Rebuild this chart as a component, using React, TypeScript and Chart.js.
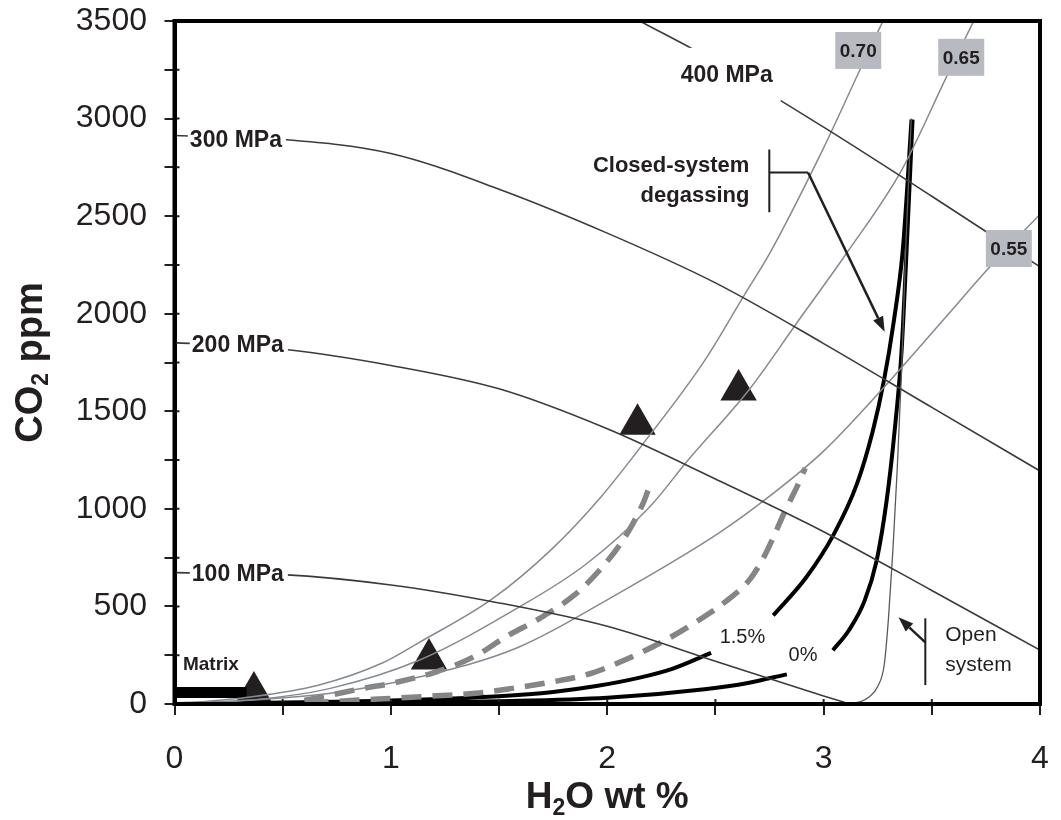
import React, { useEffect, useRef } from 'react';
import { Chart, registerables } from 'chart.js';

Chart.register(...registerables);

const FONT = '"Liberation Sans", Arial, Helvetica, sans-serif';
const INK = '#231f20';

// ---- axis ticks ----
const xTickLabels = [0, 1, 2, 3, 4];
const yTickLabels = [0, 500, 1000, 1500, 2000, 2500, 3000, 3500];

// ---- isobars (MPa) ----
const isobarX = [0, 0.5, 1.0, 1.5, 2.0, 2.5, 3.0, 3.5, 4.0];
const isobar300Y = [2913, 2893, 2821, 2638, 2413, 2158, 1847, 1520, 1194];
const isobar200Y = [1852, 1818, 1735, 1615, 1410, 1153, 883, 582, 276];
const isobar100X = [0, 0.5, 1.0, 1.5, 2.0, 2.5, 3.0, 3.12];
const isobar100Y = [673, 663, 610, 518, 398, 219, 41, 0];
const isobar400X = [2.15, 2.5, 3.0, 3.5, 4.0];
const isobar400Y = [3500, 3292, 2956, 2602, 2240];

// ---- isopleths (fluid composition) ----
const iso070X = [0, 0.35, 0.66, 0.96, 1.13, 1.47, 1.74, 1.97, 2.175, 2.45, 2.634, 2.754, 3.0, 3.168, 3.3];
const iso070Y = [0, 36, 95, 210, 315, 540, 790, 1060, 1347, 1760, 2097, 2316, 2850, 3250, 3560];
const iso065X = [0, 0.4, 0.72, 1.13, 1.59, 1.9, 2.2, 2.37, 2.66, 2.88, 3.11, 3.36, 3.57, 3.72];
const iso065Y = [0, 25, 80, 224, 495, 715, 1015, 1245, 1617, 1959, 2316, 2735, 3219, 3560];
const iso055X = [0, 0.35, 0.72, 1.13, 1.59, 2.05, 2.51, 2.74, 3.0, 3.26, 3.57, 3.76, 4.0];
const iso055Y = [0, 20, 55, 138, 291, 566, 872, 1056, 1296, 1600, 1990, 2230, 2510];

// ---- dashed degassing paths ----
const dashUpperX = [0.6, 0.72, 0.87, 1.0, 1.21, 1.38, 1.54, 1.69, 1.85, 1.96, 2.08, 2.17, 2.19];
const dashUpperY = [18, 45, 80, 105, 165, 240, 350, 440, 560, 680, 852, 1040, 1100];
const dashLowerX = [0.62, 0.85, 1.02, 1.21, 1.39, 1.56, 1.74, 1.92, 2.07, 2.25, 2.41, 2.57, 2.66, 2.72, 2.77, 2.82, 2.88, 2.915];
const dashLowerY = [5, 20, 30, 42, 55, 80, 112, 155, 220, 316, 420, 545, 640, 745, 860, 985, 1120, 1209];

// ---- closed-system degassing (solid black) ----
const closed15LowX = [0, 0.5, 1.0, 1.5, 1.75, 1.95, 2.15, 2.3, 2.48];
const closed15LowY = [0, 8, 18, 40, 62, 92, 135, 180, 262];
const closed15HighX = [2.767, 2.919, 3.048, 3.154, 3.227, 3.278, 3.324, 3.365, 3.388, 3.406];
const closed15HighY = [454, 648, 872, 1128, 1398, 1653, 1959, 2316, 2673, 2995];
const closed0LowX = [0, 0.5, 1.0, 1.5, 2.0, 2.45, 2.65, 2.83];
const closed0LowY = [0, 2, 6, 14, 32, 76, 108, 152];
const closed0HighX = [3.043, 3.117, 3.19, 3.245, 3.291, 3.328, 3.36, 3.383, 3.411];
const closed0HighY = [276, 378, 531, 735, 1041, 1398, 1806, 2316, 2995];

// ---- open-system path ----
const openX = [3.12, 3.17, 3.21, 3.25, 3.28, 3.3, 3.32, 3.34, 3.36, 3.38, 3.405];
const openY = [0, 12, 36, 90, 200, 444, 786, 1200, 1700, 2350, 3000];

// ---- samples (triangles) and matrix ----
const sampleX = [0.367, 1.176, 2.14, 2.607];
const sampleY = [61, 230, 1434, 1609];
const matrixX = [0, 0.333];
const matrixY = [59, 59];

// ---- text annotations (data coordinates) ----
const isobarLabels = [
  { text: '300 MPa', x: 0.071, y: 2893 },
  { text: '200 MPa', x: 0.08, y: 1842 },
  { text: '100 MPa', x: 0.08, y: 668 },
];
const isoplethBoxes = [
  { text: '0.70', x: 3.16, y: 3349 },
  { text: '0.65', x: 3.636, y: 3314 },
  { text: '0.55', x: 3.856, y: 2334 },
];

const pts = (xs: number[], ys: (number | null)[]) => xs.map((x, i) => ({ x, y: ys[i] }));
const withGap = (ax: number[], ay: number[], bx: number[], by: number[]) => [
  ...pts(ax, ay),
  { x: (ax[ax.length - 1] + bx[0]) / 2, y: null },
  ...pts(bx, by),
];

const line = (label: string, data: any[], color: string, width: number, extra: any = {}) => ({
  type: 'line',
  label,
  data,
  borderColor: color,
  backgroundColor: color,
  borderWidth: width,
  pointRadius: 0,
  fill: false,
  spanGaps: false,
  cubicInterpolationMode: 'monotone',
  ...extra,
});

function arrow(ctx: CanvasRenderingContext2D, x1: number, y1: number, x2: number, y2: number) {
  const ang = Math.atan2(y2 - y1, x2 - x1);
  const len = 15;
  const hw = 5.5;
  const bx = x2 - Math.cos(ang) * len;
  const by = y2 - Math.sin(ang) * len;
  ctx.beginPath();
  ctx.moveTo(x1, y1);
  ctx.lineTo(bx, by);
  ctx.stroke();
  ctx.beginPath();
  ctx.moveTo(x2, y2);
  ctx.lineTo(bx + Math.sin(ang) * hw, by - Math.cos(ang) * hw);
  ctx.lineTo(bx - Math.sin(ang) * hw, by + Math.cos(ang) * hw);
  ctx.closePath();
  ctx.fill();
}

const annotationPlugin = {
  id: 'annotations',
  afterDatasetsDraw(chart: any) {
    const { ctx, chartArea } = chart;
    const sx = chart.scales.x;
    const sy = chart.scales.y;
    const px = (v: number) => sx.getPixelForValue(v);
    const py = (v: number) => sy.getPixelForValue(v);
    ctx.save();
    ctx.fillStyle = INK;
    ctx.textBaseline = 'middle';

    // isobar labels with white background
    ctx.font = `bold 23px ${FONT}`;
    ctx.textAlign = 'left';
    isobarLabels.forEach((l) => {
      const w = ctx.measureText(l.text).width;
      ctx.fillStyle = '#fff';
      ctx.fillRect(px(l.x) - 2, py(l.y) - 10, w + 6, 20);
      ctx.fillStyle = INK;
      ctx.fillText(l.text, px(l.x), py(l.y) + 1);
    });
    // 400 MPa label (centered, larger gap)
    {
      const cx = px(2.552);
      const cy = py(3224);
      const w = ctx.measureText('400 MPa').width;
      ctx.fillStyle = '#fff';
      ctx.fillRect(cx - w / 2 - 8, cy - 27, w + 16, 54);
      ctx.fillStyle = INK;
      ctx.textAlign = 'center';
      ctx.fillText('400 MPa', cx, cy + 1);
    }

    // isopleth boxes
    ctx.font = `bold 19px ${FONT}`;
    ctx.textAlign = 'center';
    isoplethBoxes.forEach((b) => {
      const cx = px(b.x);
      const cy = py(b.y);
      ctx.fillStyle = '#b7bac1';
      ctx.fillRect(cx - 23, cy - 18.5, 46, 37);
      ctx.fillStyle = INK;
      ctx.fillText(b.text, cx, cy + 1);
    });

    // Matrix
    ctx.font = `bold 19px ${FONT}`;
    ctx.textAlign = 'left';
    ctx.fillText('Matrix', px(0.039), py(199));

    // Closed-system degassing
    ctx.font = `bold 22px ${FONT}`;
    ctx.textAlign = 'right';
    ctx.fillText('Closed-system', px(2.657), py(2755));
    ctx.fillText('degassing', px(2.657), py(2602));

    ctx.strokeStyle = INK;
    ctx.lineWidth = 2;
    ctx.beginPath();
    ctx.moveTo(px(2.749), py(2842));
    ctx.lineTo(px(2.749), py(2520));
    ctx.moveTo(px(2.749), py(2724));
    ctx.lineTo(px(2.928), py(2724));
    ctx.stroke();
    ctx.lineWidth = 2.5;
    arrow(ctx, px(2.928), py(2724), px(3.282), py(1908));

    // percent labels
    ctx.font = `20px ${FONT}`;
    ctx.textAlign = 'center';
    ctx.fillText('1.5%', px(2.625), py(342));
    ctx.fillText('0%', px(2.905), py(250));

    // Open system
    ctx.font = `21px ${FONT}`;
    ctx.textAlign = 'left';
    ctx.fillText('Open', px(3.562), py(352));
    ctx.fillText('system', px(3.562), py(199));
    ctx.lineWidth = 2;
    ctx.beginPath();
    ctx.moveTo(px(3.47), py(439));
    ctx.lineTo(px(3.47), py(97));
    ctx.stroke();
    ctx.lineWidth = 2.5;
    arrow(ctx, px(3.47), py(316), px(3.346), py(444));

    // inward parts of the tick marks
    ctx.strokeStyle = INK;
    ctx.lineWidth = 2;
    ctx.beginPath();
    sx.ticks.forEach((t: any) => {
      const x = px(t.value);
      ctx.moveTo(x, chartArea.bottom);
      ctx.lineTo(x, chartArea.bottom - 5);
    });
    sy.ticks.forEach((t: any) => {
      const y = py(t.value);
      ctx.moveTo(chartArea.left, y);
      ctx.lineTo(chartArea.left + 5, y);
    });
    ctx.stroke();

    // frame
    ctx.strokeStyle = '#000';
    ctx.lineWidth = 4;
    ctx.strokeRect(chartArea.left, chartArea.top, chartArea.right - chartArea.left, chartArea.bottom - chartArea.top);
    ctx.restore();
  },
  afterDraw(chart: any) {
    const { ctx, chartArea } = chart;
    ctx.save();
    ctx.fillStyle = INK;
    ctx.textBaseline = 'alphabetic';
    ctx.textAlign = 'left';
    const big = `bold 38px ${FONT}`;
    const sub = `bold 23px ${FONT}`;

    // y title: CO2 ppm
    ctx.font = big;
    const wCO = ctx.measureText('CO').width;
    const wPpm = ctx.measureText(' ppm').width;
    ctx.font = sub;
    const w2 = ctx.measureText('2').width;
    const total = wCO + w2 + wPpm;
    ctx.translate(42, (chartArea.top + chartArea.bottom) / 2);
    ctx.rotate(-Math.PI / 2);
    let x0 = -total / 2;
    ctx.font = big;
    ctx.fillText('CO', x0, 0);
    x0 += wCO;
    ctx.font = sub;
    ctx.fillText('2', x0, 6);
    x0 += w2;
    ctx.font = big;
    ctx.fillText(' ppm', x0, 0);
    ctx.setTransform(1, 0, 0, 1, 0, 0);

    // x title: H2O wt %
    const bigX = `bold 37px ${FONT}`;
    const subX = `bold 23px ${FONT}`;
    ctx.font = bigX;
    const wH = ctx.measureText('H').width;
    const wRest = ctx.measureText('O wt %').width;
    ctx.font = subX;
    const w2x = ctx.measureText('2').width;
    const totalX = wH + w2x + wRest;
    let xx = (chartArea.left + chartArea.right) / 2 - totalX / 2;
    const base = 808;
    ctx.font = bigX;
    ctx.fillText('H', xx, base);
    xx += wH;
    ctx.font = subX;
    ctx.fillText('2', xx, base + 7);
    xx += w2x;
    ctx.font = bigX;
    ctx.fillText('O wt %', xx, base);
    ctx.restore();
  },
};

export default function App() {
  const ref = useRef<HTMLCanvasElement | null>(null);

  useEffect(() => {
    if (!ref.current) return;
    const isobarColor = '#3b3b3b';
    const isoplethColor = '#858a92';
    const datasets: any[] = [
      line('300 MPa', pts(isobarX, isobar300Y), isobarColor, 1.6),
      line('200 MPa', pts(isobarX, isobar200Y), isobarColor, 1.6),
      line('100 MPa', pts(isobar100X, isobar100Y), isobarColor, 1.6),
      line('400 MPa', pts(isobar400X, isobar400Y), isobarColor, 1.6),
      line('0.70', pts(iso070X, iso070Y), isoplethColor, 1.5),
      line('0.65', pts(iso065X, iso065Y), isoplethColor, 1.5),
      line('0.55', pts(iso055X, iso055Y), isoplethColor, 1.5),
      line('open system', pts(openX, openY), '#5a5a5a', 1.3),
      line('dashed upper', pts(dashUpperX, dashUpperY), '#858585', 5.5, { borderDash: [20, 11] }),
      line('dashed lower', pts(dashLowerX, dashLowerY), '#858585', 5.5, { borderDash: [20, 11] }),
      line('closed 1.5%', withGap(closed15LowX, closed15LowY, closed15HighX, closed15HighY), '#000', 4),
      line('closed 0%', withGap(closed0LowX, closed0LowY, closed0HighX, closed0HighY), '#000', 4),
      line('matrix', pts(matrixX, matrixY), '#000', 11, { borderCapStyle: 'butt' }),
      {
        type: 'scatter',
        label: 'samples',
        data: pts(sampleX, sampleY),
        pointStyle: 'triangle',
        pointRadius: 21,
        backgroundColor: INK,
        borderColor: INK,
        borderWidth: 0,
        clip: false,
      },
    ];

    const chart = new Chart(ref.current, {
      type: 'line',
      data: { datasets },
      options: {
        animation: false,
        responsive: false,
        maintainAspectRatio: false,
        devicePixelRatio: 1,
        events: [],
        layout: { padding: { left: 0, right: 16, top: 18, bottom: 0 } },
        plugins: { legend: { display: false }, tooltip: { enabled: false } },
        scales: {
          x: {
            type: 'linear',
            min: 0,
            max: 4,
            ticks: {
              stepSize: 0.5,
              autoSkip: false,
              maxRotation: 0,
              padding: 25,
              color: INK,
              font: { family: FONT, size: 32 },
              callback: (v: any) => (xTickLabels.includes(Number(v)) ? String(v) : ''),
            },
            grid: { drawOnChartArea: false, drawTicks: true, tickLength: 11, color: INK, lineWidth: 2 },
            border: { display: true, color: '#000', width: 4 },
            afterFit: (s: any) => {
              s.height = 116;
              s.paddingLeft = 0;
              s.paddingRight = 0;
            },
          },
          y: {
            type: 'linear',
            min: 0,
            max: 3500,
            ticks: {
              stepSize: 250,
              autoSkip: false,
              padding: 17.5,
              color: INK,
              font: { family: FONT, size: 32 },
              callback: (v: any) => (yTickLabels.includes(Number(v)) ? String(v) : ''),
            },
            grid: { drawOnChartArea: false, drawTicks: true, tickLength: 10, color: INK, lineWidth: 2 },
            border: { display: true, color: '#000', width: 4 },
            afterFit: (s: any) => {
              s.width = 174.5;
              s.paddingTop = 0;
              s.paddingBottom = 0;
            },
          },
        },
      },
      plugins: [annotationPlugin],
    } as any);

    return () => chart.destroy();
  }, []);

  return (
    <div style={{ position: 'absolute', left: 0, top: 0, width: 1061, height: 820, background: '#fff' }}>
      <canvas ref={ref} width={1061} height={820} style={{ display: 'block' }} />
    </div>
  );
}
